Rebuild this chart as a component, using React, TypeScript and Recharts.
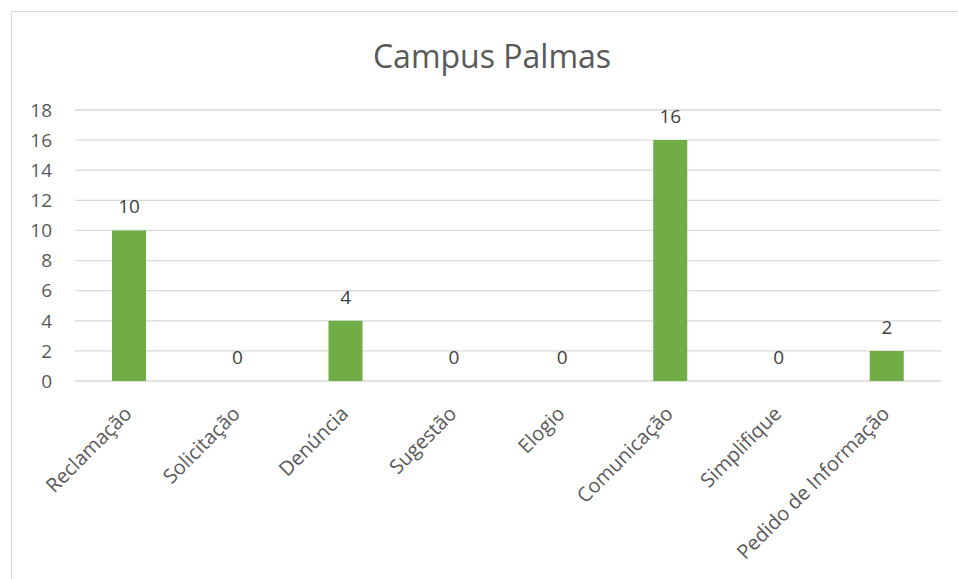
import React from 'react';
import { ComposedChart, Bar, Line, XAxis, YAxis, CartesianGrid, LabelList } from 'recharts';

const categories = ['Reclamação', 'Solicitação', 'Denúncia', 'Sugestão', 'Elogio', 'Comunicação', 'Simplifique', 'Pedido de Informação'];
const values = [10, 0, 4, 0, 0, 16, 0, 2];
const yTicks = [0, 2, 4, 6, 8, 10, 12, 14, 16, 18];
const title = 'Campus Palmas';

const data = categories.map((c, i) => ({ name: c, value: values[i] }));

const FONT = 'Open Sans, sans-serif';

const XTick = (props: any) => {
  const { x, y, payload } = props;
  return (
    <g transform={`translate(${x + 4},${y + 26})`}>
      <text x={0} y={0} textAnchor="end" transform="rotate(-45)" fill="#595959" fontSize={20} fontFamily={FONT}>
        {payload.value}
      </text>
    </g>
  );
};

export default function App() {
  return (
    <div style={{ position: 'absolute', left: 0, top: 0, width: 958, height: 579, background: '#fff', overflow: 'hidden' }}>
      <div style={{ position: 'absolute', left: 11, top: 11, width: 960, height: 580, border: '1px solid #d9d9d9', boxSizing: 'border-box' }} />
      <div style={{ position: 'absolute', left: 0, top: 34, width: 984, textAlign: 'center', fontFamily: FONT, fontSize: 32, lineHeight: 'normal', color: '#595959' }}>
        {title}
      </div>
      <div style={{ position: 'absolute', left: 0, top: 0 }}>
        <ComposedChart width={958} height={579} data={data} margin={{ top: 110, right: 17, bottom: 0, left: 15 }}>
          <CartesianGrid vertical={false} stroke="#d9d9d9" strokeWidth={1.3} />
          <XAxis dataKey="name" interval={0} axisLine={false} tickLine={false} height={198} tick={<XTick />} />
          <YAxis domain={[0, 18]} ticks={yTicks} width={60} axisLine={false} tickLine={false} tickSize={0} tickMargin={23}
            tick={{ fill: '#595959', fontSize: 19, fontFamily: FONT }} />
          <Bar dataKey="value" fill="#70AD47" barSize={34} isAnimationActive={false} />
          <Line dataKey="value" stroke="none" dot={false} activeDot={false} isAnimationActive={false} legendType="none">
            <LabelList dataKey="value" position="top" offset={17} fill="#404040" fontSize={19} fontFamily={FONT} />
          </Line>
        </ComposedChart>
      </div>
    </div>
  );
}
